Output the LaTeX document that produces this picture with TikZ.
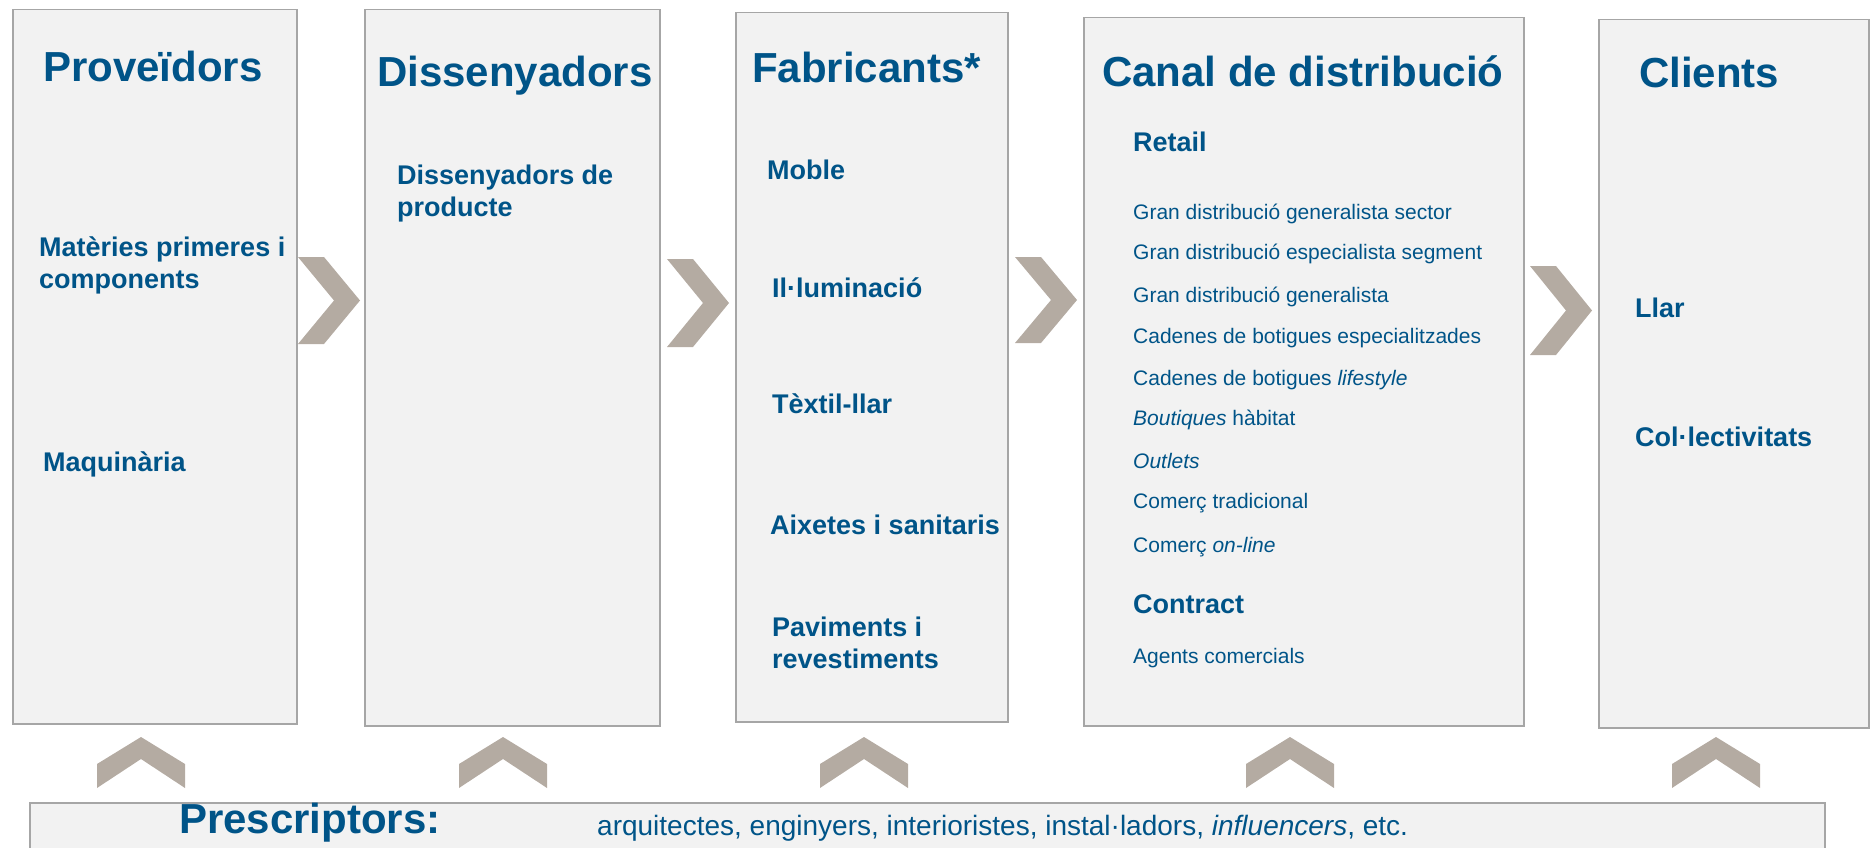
\documentclass[tikz,border=0pt]{standalone}
\usepackage{fontspec}
\setmainfont{Liberation Sans}
\definecolor{titleblue}{HTML}{005488}
\definecolor{panelgray}{HTML}{F2F2F2}
\definecolor{edgegray}{HTML}{A6A6A6}
\definecolor{chevrongray}{HTML}{B4ABA2}

\begin{document}
\begin{tikzpicture}[x=1pt,y=-1pt,
  panel/.style={draw=edgegray,fill=panelgray,line width=1.5pt,anchor=north west,inner sep=0pt},
  heading/.style={anchor=base west,inner sep=0pt,text=titleblue,font=\fontsize{42}{46}\selectfont\bfseries},
  item/.style={anchor=base west,inner sep=0pt,text=titleblue,align=left,font=\fontsize{27}{32}\selectfont\bfseries},
  channel/.style={anchor=base west,inner sep=0pt,text=titleblue,font=\fontsize{21}{25}\selectfont}]
  \useasboundingbox (0,0) rectangle (1871,848);

  % panels
  \node[panel,minimum width=284pt,minimum height=714pt] (prov) at (12,9) {};
  \node[panel,minimum width=295pt,minimum height=716pt] (dis) at (364,9) {};
  \node[panel,minimum width=272pt,minimum height=709pt] (fab) at (735,12) {};
  \node[panel,minimum width=440pt,minimum height=708pt] (canal) at (1083,17) {};
  \node[panel,minimum width=270pt,minimum height=708pt] (cli) at (1598,19) {};
  \node[panel,minimum width=1795pt,minimum height=70pt] (presc) at (29,802) {};

  % chevrons
  \foreach \x/\y/\h in {298/257/87, 667/259/88, 1015/257/86, 1530/266/89}
    \fill[chevrongray] (\x,\y) -- ++(26,0) -- ++(36,\h/2) -- ++(-36,\h/2)
      -- ++(-26,0) -- ++(36,-\h/2) -- cycle;
  \foreach \x in {141,503,864,1290,1716}
    \fill[chevrongray] (\x-44,788) -- ++(0,-24) -- ++(44,-27) -- ++(44,27)
      -- ++(0,24) -- ++(-44,-29) -- cycle;

  % headings
  \node[heading] (provt) at (43,82) {Proveïdors};
  \node[heading] (dist) at (377,87) {Dissenyadors};
  \node[heading] (fabt) at (752,83) {Fabricants*};
  \node[heading] (canalt) at (1102,87) {Canal de distribució};
  \node[heading] (clit) at (1639,88) {Clients};

  % Proveidors (base = last line)
  \node[item] (mat) at (39,288) {Matèries primeres i\\components};
  \node[item] (maq) at (43,471) {Maquinària};

  % Dissenyadors
  \node[item] (prod) at (397,216) {Dissenyadors de\\producte};

  % Fabricants
  \node[item] (moble) at (767,179) {Moble};
  \node[item] (llum) at (772,297) {Il·luminació};
  \node[item] (textil) at (772,413) {Tèxtil-llar};
  \node[item] (aix) at (770,534) {Aixetes i sanitaris};
  \node[item] (pav) at (772,668) {Paviments i\\revestiments};

  % Canal de distribucio
  \node[item] (retail) at (1133,152) {Retail};
  \node[channel] (c1) at (1133,219) {Gran distribució generalista sector};
  \node[channel] (c2) at (1133,259) {Gran distribució especialista segment};
  \node[channel] (c3) at (1133,302) {Gran distribució generalista};
  \node[channel] (c4) at (1133,343) {Cadenes de botigues especialitzades};
  \node[channel] (c5) at (1133,385) {Cadenes de botigues \textit{lifestyle}};
  \node[channel] (c6) at (1133,425) {\textit{Boutiques} hàbitat};
  \node[channel] (c7) at (1133,468) {\textit{Outlets}};
  \node[channel] (c8) at (1133,508) {Comerç tradicional};
  \node[channel] (c9) at (1133,552) {Comerç \textit{on-line}};
  \node[item] (contract) at (1133,613) {Contract};
  \node[channel] (agents) at (1133,663) {Agents comercials};

  % Clients
  \node[item] (llar) at (1635,317) {Llar};
  \node[item] (col) at (1635,446) {Col·lectivitats};

  % Prescriptors
  \node[heading] (presct) at (179,833) {Prescriptors:};
  \node[channel,font=\fontsize{28}{32}\selectfont] (prescl) at (597,835)
    {arquitectes, enginyers, interioristes, instal·ladors, \textit{influencers}, etc.};
\end{tikzpicture}
\end{document}
